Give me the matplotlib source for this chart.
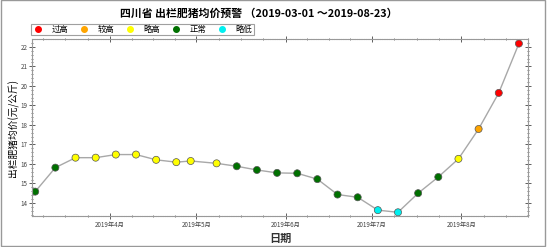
# 四川省 出栏肥猪均价预警 - weekly price chart

import matplotlib
matplotlib.use('Agg')
import matplotlib.pyplot as plt
import matplotlib.dates as mdates
from matplotlib.lines import Line2D
from matplotlib.patches import Rectangle
import pandas as pd

plt.rcParams['font.family'] = ['Noto Sans CJK SC', 'DejaVu Sans']

# Weekly price data (元/公斤) and warning level
dates = ['2019-03-06', '2019-03-13', '2019-03-20', '2019-03-27', '2019-04-03',
         '2019-04-10', '2019-04-17', '2019-04-24', '2019-04-29', '2019-05-08',
         '2019-05-15', '2019-05-22', '2019-05-29', '2019-06-05', '2019-06-12',
         '2019-06-19', '2019-06-26', '2019-07-03', '2019-07-10', '2019-07-17',
         '2019-07-24', '2019-07-31', '2019-08-07', '2019-08-14', '2019-08-21']
prices = [14.58, 15.81, 16.32, 16.32, 16.48,
          16.48, 16.21, 16.09, 16.15, 16.03,
          15.88, 15.69, 15.54, 15.52, 15.22,
          14.43, 14.29, 13.63, 13.52, 14.50,
          15.33, 16.26, 17.79, 19.64, 22.17]
levels = ['正常', '正常', '略高', '略高', '略高',
          '略高', '略高', '略高', '略高', '略高',
          '正常', '正常', '正常', '正常', '正常',
          '正常', '正常', '略低', '略低', '正常',
          '正常', '略高', '较高', '过高', '过高']

level_names = ['过高', '较高', '略高', '正常', '略低']
level_colors = ['#ff0000', '#ffa500', '#ffff00', '#007000', '#00f0f0']
color_map = dict(zip(level_names, level_colors))

x = pd.to_datetime(dates)

fig = plt.figure(figsize=(5.48, 2.47), dpi=100)
ax = fig.add_axes([0.059, 0.1255, 0.905, 0.7155])

ax.plot(x, prices, color='#a8a8a8', lw=1, zorder=1)
ax.scatter(x, prices, c=[color_map[l] for l in levels], s=26,
           edgecolors='#555555', linewidths=0.5, zorder=2)

ax.set_xlim(pd.Timestamp('2019-03-05'), pd.Timestamp('2019-08-23'))
ax.set_ylim(13.33, 22.39)

# month ticks with quarter-month minor ticks
months = pd.date_range('2019-03-01', '2019-09-01', freq='MS')
minor = []
for a, b in zip(months[:-1], months[1:]):
    for k in range(1, 4):
        minor.append(a + (b - a) * k / 4)
ax.set_xticks(months[1:-1])
ax.set_xticks(minor, minor=True)
ax.xaxis.set_major_formatter(mdates.DateFormatter('%Y年%-m月'))
ax.set_yticks(range(14, 23))
ax.yaxis.set_minor_locator(matplotlib.ticker.MultipleLocator(0.2))

ax.tick_params(which='both', direction='inout', top=True, right=True,
               labelsize=4.5, colors='#444444', pad=1.5)
ax.tick_params(which='major', length=4, width=0.6)
ax.tick_params(which='minor', length=2, width=0.5)
for s in ax.spines.values():
    s.set_color('#999999')
    s.set_linewidth(0.8)
    s.set_linestyle((0, (1, 0.6)))

ax.set_ylabel('出栏肥猪均价(元/公斤)', fontsize=7, labelpad=1)
ax.set_xlabel('日期', fontsize=8, labelpad=2, fontweight='bold', color='#333333')

# legend
handles = [Line2D([], [], marker='o', ls='', markersize=4, markerfacecolor=c,
                  markeredgecolor=c) for c in level_colors]
leg = fig.legend(handles, level_names, loc='lower left', ncol=5,
                 bbox_to_anchor=(0.056, 0.858), fontsize=6, frameon=True,
                 fancybox=False, edgecolor='#888888', borderpad=0.15,
                 borderaxespad=0, handletextpad=0.9, columnspacing=1.1,
                 handlelength=1.5)
leg.get_frame().set_linewidth(0.8)

fig.text(0.473, 0.945, '四川省 出栏肥猪均价预警 （2019-03-01 ～2019-08-23）',
         ha='center', va='center', fontsize=7.8, fontweight='bold')

# outer frame
fig.add_artist(Rectangle((0.001, 0.004), 0.993, 0.994, transform=fig.transFigure,
                         fill=False, edgecolor='#999999', lw=1))

fig.savefig('out.png', dpi=100)
